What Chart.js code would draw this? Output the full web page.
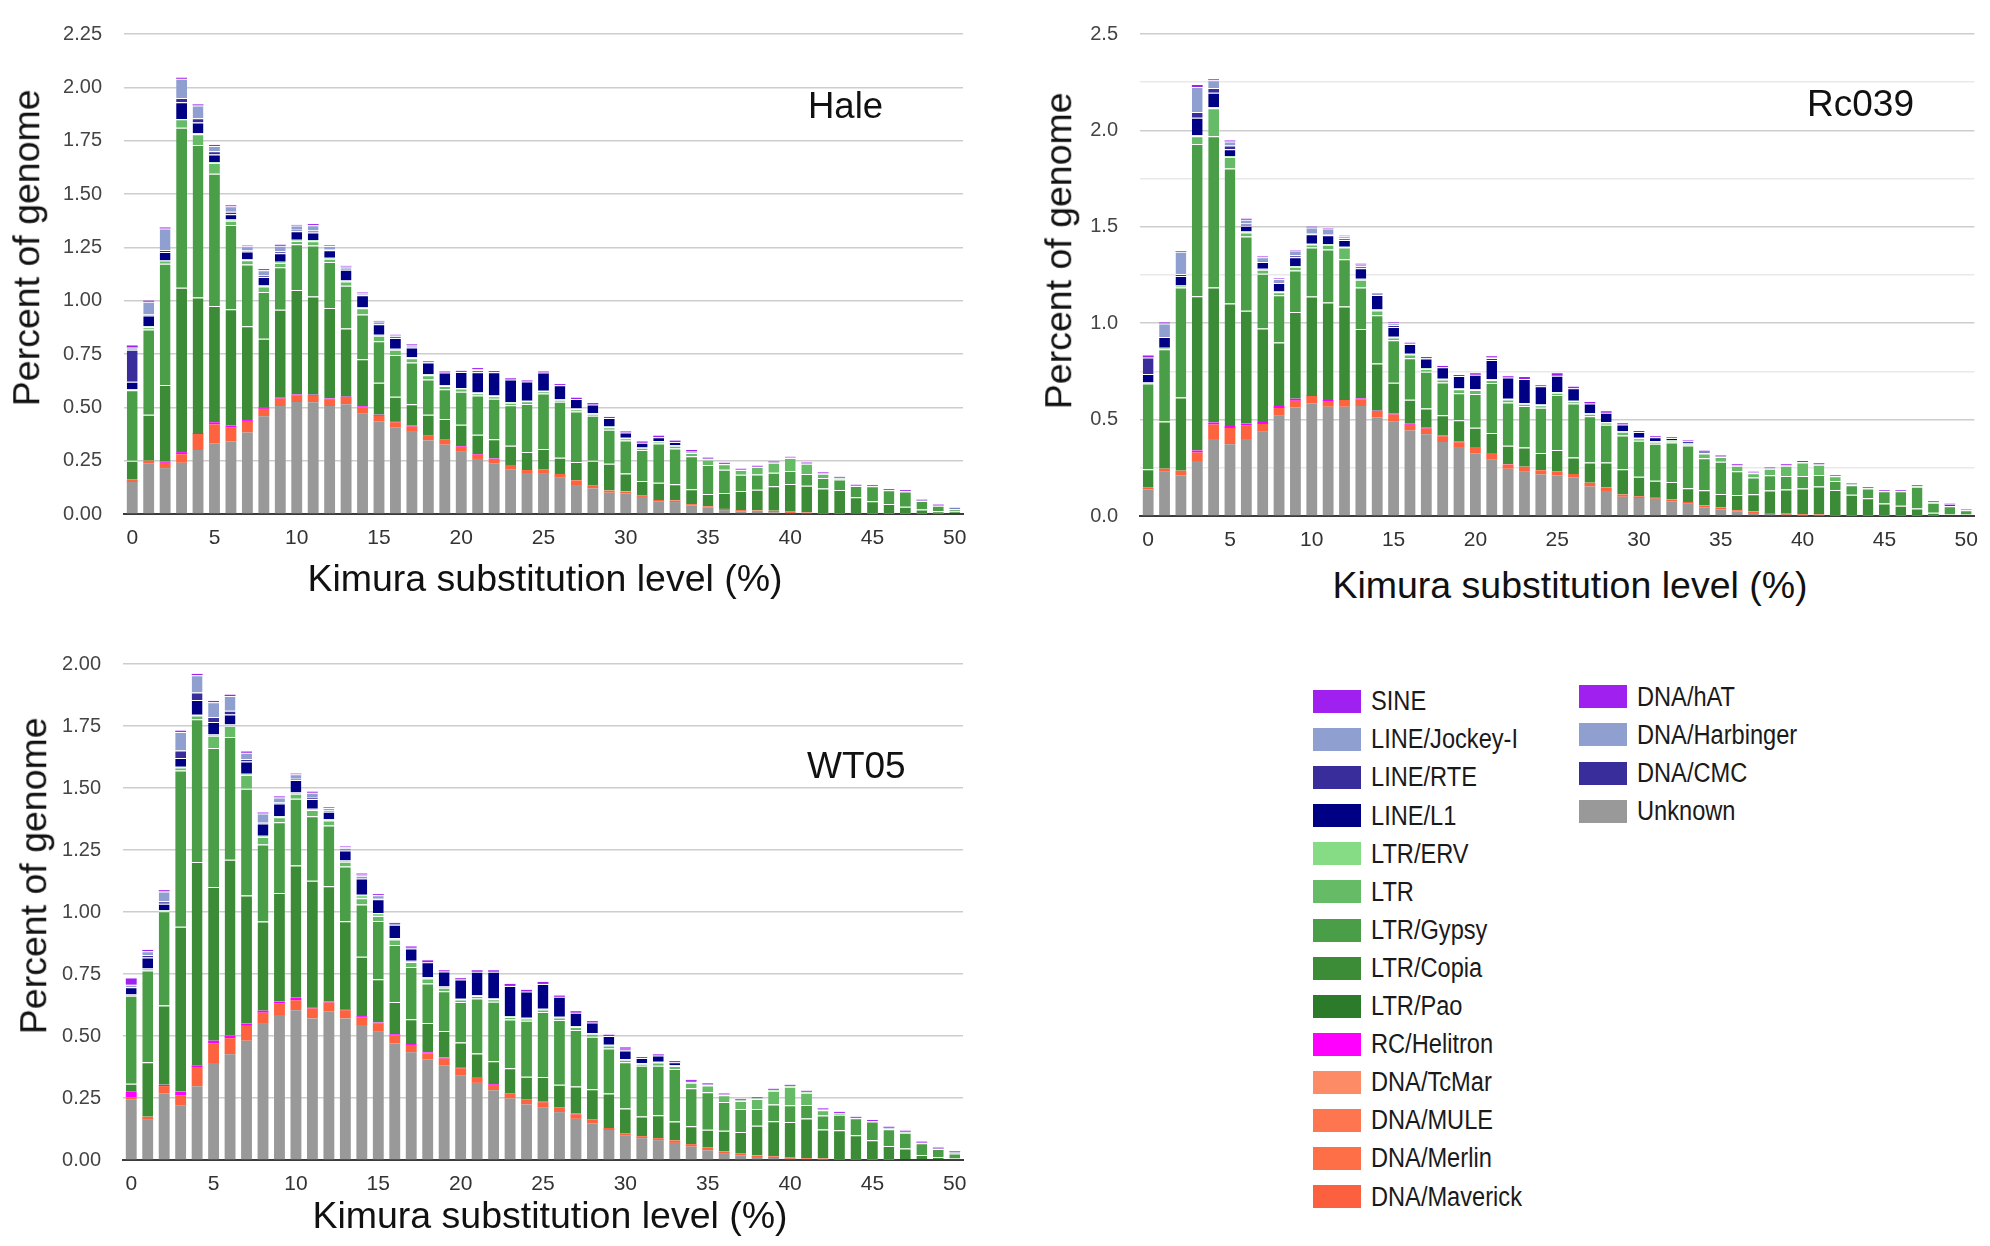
<!DOCTYPE html>
<html>
<head>
<meta charset="utf-8">
<title>Kimura substitution landscapes</title>
<script src="https://cdn.jsdelivr.net/npm/chart.js@4.4.0/dist/chart.umd.min.js"></script>
<style>
    body { margin: 0; background: #fff; font-family: 'Liberation Sans', Arial, sans-serif; }
    #page { position: relative; width: 1990px; height: 1246px; overflow: hidden; background: #fff; }
    .panel { position: absolute; }
    .txt { position: absolute; white-space: nowrap; line-height: 1; color: #111; }
    .swatch { position: absolute; width: 48px; height: 23px; }
    .legend-label { position: absolute; white-space: nowrap; line-height: 1; font-size: 27px; color: #1a1a1a;
                    transform-origin: 0 50%; transform: scaleX(0.875); }
</style>
</head>
<body>
<div id="page">
    <div class="panel" id="hale-box" style="left:0px; top:0px; width:990px; height:560px;"><canvas id="hale-chart"></canvas></div>
    <div class="panel" id="rc-box" style="left:1000px; top:0px; width:990px; height:562px;"><canvas id="rc-chart"></canvas></div>
    <div class="panel" id="wt-box" style="left:0px; top:630px; width:990px; height:576px;"><canvas id="wt-chart"></canvas></div>

    <!-- axis titles and sample tags -->
    <div class="txt" style="left:-173px; top:229px; width:400px; height:37.5px; font-size:37.5px; text-align:center; transform:rotate(-90deg);">Percent of genome</div>
    <div class="txt" style="left:859px; top:232px; width:400px; height:37.5px; font-size:37.5px; text-align:center; transform:rotate(-90deg);">Percent of genome</div>
    <div class="txt" style="left:-166px; top:857px; width:400px; height:37.5px; font-size:37.5px; text-align:center; transform:rotate(-90deg);">Percent of genome</div>

    <div class="txt" style="left:245px; top:560px; width:600px; font-size:37.5px; text-align:center;">Kimura substitution level (%)</div>
    <div class="txt" style="left:1270px; top:567px; width:600px; font-size:37.5px; text-align:center;">Kimura substitution level (%)</div>
    <div class="txt" style="left:250px; top:1197px; width:600px; font-size:37.5px; text-align:center;">Kimura substitution level (%)</div>

    <div class="txt" style="left:808px; top:88px; font-size:36.5px;">Hale</div>
    <div class="txt" style="left:1807px; top:85px; font-size:37px;">Rc039</div>
    <div class="txt" style="left:807px; top:747px; font-size:37px;">WT05</div>

    <div id="legend"></div>
</div>

<script>
// Kimura substitution level categories (0-50 %)
const kimuraLevels = [0,1,2,3,4,5,6,7,8,9,10,11,12,13,14,15,16,17,18,19,20,
    21,22,23,24,25,26,27,28,29,30,31,32,33,34,35,36,37,38,39,40,
    41,42,43,44,45,46,47,48,49,50];

// Legend entries (as in the original figure, top of the stack first)
const legendNames = ['SINE','LINE/Jockey-I','LINE/RTE','LINE/L1','LTR/ERV','LTR','LTR/Gypsy','LTR/Copia','LTR/Pao',
    'RC/Helitron','DNA/TcMar','DNA/MULE','DNA/Merlin','DNA/Maverick','DNA/hAT','DNA/Harbinger','DNA/CMC','Unknown'];
const legendColors = ['#a020ef','#8e9fd0','#392c9b','#000085','#85dc85','#66bb66','#4b9e48','#3c8c37','#2b7b2a',
    '#ff00ff','#fd8c66','#fe7650','#fe6f48','#fd603e','#a020ef','#8e9fd0','#392c9b','#999999'];

// Stacked series, bottom to top
const seriesNames = ['Unknown','DNA/Maverick','RC/Helitron','LTR/Copia','LTR/Gypsy','LTR','LTR/ERV','LINE/L1','LINE/RTE','LINE/Jockey-I','SINE'];
const seriesColors = ['#999999','#fd633f','#ff00ff','#3c8c37','#4b9e48','#66bb66','#85dc85','#000085','#392c9b','#8e9fd0','#a020ef'];
const seriesSeparated = [false,false,false,true,true,true,true,true,true,true,false];

/* ---------- Hale ---------- */
const haleUnknown = [0.150,0.238,0.215,0.240,0.300,0.330,0.340,0.382,0.458,0.506,
    0.525,0.524,0.506,0.515,0.470,0.435,0.405,0.385,0.345,0.325,
    0.295,0.258,0.238,0.210,0.188,0.192,0.170,0.136,0.120,0.100,
    0.097,0.080,0.060,0.056,0.040,0.030,0.018,0.012,0.010,0.008,
    0.005,0.003,0.002,0.002,0.002,0.001,0.001,0.001,0.001,0.001,0];
const haleDna = [0.010,0.012,0.025,0.040,0.075,0.090,0.065,0.050,0.035,0.035,
    0.030,0.030,0.030,0.030,0.030,0.025,0.025,0.025,0.022,0.022,
    0.020,0.020,0.020,0.020,0.018,0.018,0.018,0.022,0.015,0.010,
    0.008,0.008,0.006,0.008,0.006,0.006,0.006,0.006,0.006,0.007,
    0.006,0.004,0.002,0.002,0.001,0.001,0.001,0.001,0,0,0];
const haleHelitron = [0,0,0.005,0.010,0.005,0.010,0.010,0.008,0.008,0.006,
    0.005,0.005,0.005,0.005,0.005,0.005,0.005,0.005,0.003,0.003,
    0.003,0.003,0.002,0,0,0,0,0,0,0,
    0,0,0,0,0,0,0,0,0,0,
    0,0,0,0,0,0,0,0,0,0,0];
const haleCopia = [0.090,0.215,0.360,0.770,0.635,0.545,0.545,0.440,0.320,0.410,
    0.490,0.460,0.425,0.320,0.220,0.150,0.115,0.100,0.095,0.095,
    0.100,0.090,0.090,0.090,0.085,0.095,0.076,0.086,0.115,0.125,
    0.085,0.067,0.081,0.075,0.070,0.058,0.075,0.090,0.098,0.115,
    0.130,0.125,0.115,0.108,0.076,0.058,0.045,0.032,0.020,0.012,0.012];
const haleGypsy = [0.330,0.400,0.568,0.750,0.715,0.620,0.395,0.290,0.220,0.200,
    0.215,0.240,0.215,0.200,0.210,0.195,0.195,0.195,0.165,0.140,
    0.155,0.185,0.190,0.190,0.225,0.260,0.262,0.237,0.210,0.160,
    0.155,0.145,0.183,0.168,0.155,0.136,0.108,0.076,0.071,0.063,
    0.060,0.055,0.050,0.050,0.052,0.070,0.064,0.072,0.040,0.026,0.010];
const haleLtr = [0.005,0.010,0.015,0.040,0.050,0.050,0.020,0.020,0.025,0.020,
    0.015,0.020,0.015,0.020,0.030,0.025,0.025,0.020,0.020,0.015,
    0.015,0.010,0.012,0.012,0.012,0.010,0.010,0.010,0.010,0.012,
    0.010,0.010,0.010,0.013,0.015,0.025,0.026,0.022,0.035,0.047,
    0.062,0.048,0.020,0.006,0.002,0.002,0.002,0.002,0.002,0.001,0];
const haleErv = [0,0.005,0,0,0.005,0.005,0.005,0.005,0.005,0.005,
    0.005,0.005,0.005,0.005,0.005,0.005,0.005,0.005,0.005,0.003,
    0.003,0.003,0.003,0.003,0.003,0.003,0.003,0.003,0.003,0.003,
    0.002,0.002,0.002,0.002,0.002,0.002,0.002,0.002,0.002,0.002,
    0.002,0.002,0.002,0.002,0,0,0,0,0,0,0];
const haleL1 = [0.035,0.050,0.040,0.080,0.050,0.035,0.025,0.035,0.040,0.040,
    0.040,0.035,0.035,0.050,0.055,0.050,0.050,0.045,0.055,0.060,
    0.075,0.095,0.110,0.105,0.090,0.085,0.065,0.045,0.040,0.040,
    0.025,0.022,0.018,0.015,0.007,0.003,0,0,0,0,
    0,0,0,0,0,0,0,0,0,0,0.008];
const haleRte = [0.150,0.005,0.010,0.020,0.020,0.015,0.012,0.005,0.007,0.010,
    0.007,0.010,0.005,0.005,0.005,0.007,0.007,0.007,0.003,0,
    0,0.010,0,0,0,0,0,0,0,0,
    0,0,0,0,0,0,0,0,0,0,
    0,0,0,0,0,0,0,0,0,0,0];
const haleJockey = [0.010,0.060,0.100,0.090,0.060,0.025,0.025,0.020,0.025,0.025,
    0.020,0.025,0.015,0.010,0.005,0.005,0.005,0.005,0,0,
    0,0.005,0,0,0,0,0,0,0,0,
    0,0,0,0,0,0,0,0,0,0,
    0,0,0,0,0,0,0,0,0,0,0];
const haleSine = [0.010,0.005,0.005,0.005,0.005,0.005,0.005,0.003,0.005,0.005,
    0.003,0.005,0.003,0.003,0.003,0.003,0.003,0.003,0.003,0.005,
    0.005,0.005,0.005,0.006,0.005,0.005,0.005,0.006,0.007,0.005,
    0.005,0.006,0.007,0.007,0.005,0.004,0.005,0.004,0.004,0.004,
    0.003,0.004,0.004,0.004,0.004,0.004,0.004,0.004,0.004,0.004,0.001];

/* ---------- Rc039 ---------- */
const rcUnknown = [0.137,0.230,0.210,0.285,0.400,0.372,0.400,0.437,0.520,0.563,
    0.583,0.567,0.567,0.570,0.511,0.491,0.443,0.424,0.384,0.358,
    0.324,0.292,0.245,0.230,0.215,0.210,0.200,0.153,0.130,0.100,
    0.093,0.090,0.076,0.064,0.044,0.034,0.024,0.015,0.010,0.006,
    0.003,0.003,0.002,0.001,0.001,0.001,0.001,0.001,0.001,0,0];
const rcDna = [0.010,0.015,0.025,0.045,0.075,0.085,0.070,0.040,0.040,0.035,
    0.040,0.030,0.035,0.035,0.030,0.035,0.030,0.030,0.030,0.025,
    0.030,0.030,0.022,0.025,0.022,0.022,0.018,0.020,0.018,0.012,
    0.010,0.008,0.010,0.008,0.010,0.010,0.006,0.008,0.005,0.006,
    0.006,0.005,0.003,0.002,0.001,0,0,0,0,0,0];
const rcHelitron = [0,0,0,0.010,0.010,0.010,0.010,0.010,0.010,0.010,
    0.005,0.005,0.005,0.005,0.005,0.005,0.005,0.004,0.004,0.004,
    0.004,0.003,0.002,0,0,0,0,0,0,0,
    0,0,0,0,0,0,0,0,0,0,
    0,0,0,0,0,0,0,0,0,0,0];
const rcCopia = [0.095,0.245,0.380,0.800,0.700,0.635,0.585,0.485,0.330,0.450,
    0.510,0.505,0.480,0.360,0.245,0.160,0.125,0.100,0.105,0.110,
    0.100,0.105,0.095,0.100,0.090,0.110,0.085,0.105,0.130,0.130,
    0.100,0.085,0.090,0.072,0.080,0.070,0.079,0.090,0.117,0.125,
    0.133,0.145,0.130,0.107,0.090,0.064,0.052,0.038,0.016,0.010,0.008];
const rcGypsy = [0.445,0.375,0.570,0.790,0.785,0.700,0.385,0.285,0.245,0.215,
    0.255,0.275,0.245,0.215,0.250,0.220,0.215,0.190,0.170,0.140,
    0.175,0.260,0.225,0.215,0.235,0.285,0.280,0.240,0.195,0.175,
    0.187,0.192,0.205,0.222,0.165,0.167,0.123,0.087,0.080,0.070,
    0.066,0.060,0.047,0.050,0.050,0.063,0.075,0.113,0.052,0.040,0.022];
const rcLtr = [0.005,0.008,0.010,0.040,0.145,0.060,0.020,0.020,0.015,0.020,
    0.015,0.025,0.060,0.040,0.025,0.015,0.020,0.015,0.015,0.020,
    0.020,0.015,0.015,0.012,0.012,0.012,0.012,0.012,0.012,0.020,
    0.013,0.010,0.008,0.008,0.025,0.025,0.028,0.022,0.033,0.053,
    0.069,0.053,0.024,0.005,0.003,0.003,0.003,0.003,0.003,0.002,0];
const rcErv = [0,0,0,0.005,0.005,0.005,0.005,0.005,0.004,0.004,
    0.004,0.004,0.004,0.005,0.005,0.004,0.004,0.004,0.004,0.004,
    0.004,0.004,0.004,0.004,0.004,0.004,0.003,0.003,0.003,0.003,
    0.003,0.004,0.004,0.004,0.003,0.003,0.003,0.003,0.003,0.003,
    0.003,0.003,0.003,0,0,0,0,0,0,0,0];
const rcL1 = [0.045,0.055,0.050,0.090,0.075,0.035,0.030,0.035,0.045,0.045,
    0.050,0.045,0.035,0.055,0.075,0.050,0.050,0.050,0.060,0.065,
    0.075,0.100,0.110,0.125,0.095,0.085,0.065,0.050,0.048,0.035,
    0.030,0.020,0.012,0.010,0.006,0,0,0,0,0,
    0,0,0,0,0,0,0,0,0,0.008,0.002];
const rcRte = [0.085,0.005,0.010,0.030,0.025,0.020,0.012,0.005,0.005,0.010,
    0.005,0.005,0.010,0.010,0.005,0.010,0.003,0.003,0,0,
    0,0.010,0,0,0,0,0,0,0,0,
    0,0,0,0,0,0,0,0,0,0,
    0,0,0,0,0,0,0,0,0,0,0];
const rcJockey = [0,0.065,0.115,0.130,0.040,0.020,0.020,0.020,0.015,0.025,
    0.030,0.030,0.010,0.010,0.003,0.010,0,0,0,0,
    0,0.005,0,0,0,0,0,0,0,0,
    0,0,0,0,0,0,0,0,0,0,
    0,0,0,0,0,0,0,0,0,0,0];
const rcSine = [0.010,0.005,0.005,0.010,0.005,0.005,0.005,0.004,0.003,0.003,
    0.003,0.003,0.003,0.003,0.003,0.003,0.004,0.005,0.006,0.005,
    0.008,0.005,0.007,0.010,0.005,0.012,0.007,0.008,0.007,0.006,
    0.005,0.005,0.004,0.004,0.005,0.005,0.005,0.004,0.004,0.005,
    0.005,0.005,0.004,0.004,0.004,0.004,0.004,0.004,0.004,0.004,0.003];

/* ---------- WT05 ---------- */
const wtUnknown = [0.245,0.162,0.268,0.221,0.297,0.391,0.426,0.481,0.549,0.581,
    0.604,0.571,0.600,0.571,0.544,0.517,0.470,0.434,0.405,0.382,
    0.342,0.311,0.281,0.248,0.224,0.213,0.193,0.166,0.148,0.121,
    0.098,0.088,0.080,0.069,0.054,0.039,0.028,0.018,0.012,0.008,
    0.005,0.003,0.002,0.002,0.002,0.001,0.001,0,0,0,0];
const wtDna = [0.007,0.012,0.030,0.040,0.075,0.080,0.065,0.060,0.045,0.050,
    0.040,0.040,0.035,0.033,0.032,0.033,0.033,0.030,0.025,0.027,
    0.028,0.020,0.022,0.020,0.020,0.020,0.018,0.018,0.015,0.008,
    0.010,0.008,0.008,0.010,0.010,0.010,0.007,0.007,0.006,0.007,
    0.006,0.004,0.004,0.002,0.002,0.001,0,0,0,0,0];
const wtHelitron = [0.025,0,0.005,0.015,0.010,0.010,0.010,0.008,0.008,0.008,
    0.010,0.005,0.004,0.004,0.004,0.004,0.004,0.004,0.004,0.004,
    0.004,0.003,0.003,0.002,0.002,0.002,0.002,0.002,0.002,0,
    0,0,0,0,0,0,0,0,0,0,
    0,0,0,0,0,0,0,0,0,0,0];
const wtCopia = [0.030,0.220,0.320,0.665,0.820,0.620,0.710,0.518,0.360,0.438,
    0.533,0.510,0.465,0.355,0.240,0.175,0.130,0.100,0.118,0.107,
    0.100,0.095,0.092,0.100,0.090,0.100,0.090,0.110,0.120,0.139,
    0.100,0.079,0.092,0.076,0.072,0.073,0.083,0.088,0.120,0.141,
    0.142,0.160,0.117,0.116,0.096,0.078,0.055,0.046,0.020,0.012,0.008];
const wtGypsy = [0.355,0.370,0.380,0.630,0.575,0.560,0.495,0.430,0.310,0.285,
    0.270,0.260,0.245,0.220,0.210,0.235,0.230,0.210,0.160,0.160,
    0.163,0.222,0.240,0.197,0.225,0.262,0.262,0.228,0.212,0.182,
    0.186,0.205,0.200,0.212,0.153,0.151,0.116,0.093,0.068,0.068,
    0.068,0.055,0.056,0.062,0.068,0.075,0.068,0.064,0.048,0.032,0.018];
const wtLtr = [0.005,0.008,0.005,0.012,0.015,0.050,0.045,0.055,0.030,0.020,
    0.020,0.025,0.020,0.020,0.025,0.020,0.022,0.020,0.020,0.015,
    0.010,0.010,0.010,0.010,0.010,0.010,0.010,0.012,0.012,0.012,
    0.010,0.008,0.013,0.012,0.022,0.027,0.027,0.032,0.040,0.055,
    0.074,0.049,0.022,0.008,0.002,0.002,0.002,0.002,0.002,0.002,0];
const wtErv = [0,0,0,0.003,0.003,0.005,0.005,0.005,0.005,0.005,
    0.005,0.005,0.005,0.005,0.015,0.012,0.005,0.005,0.005,0.005,
    0.003,0.003,0.003,0.003,0.003,0.003,0.003,0.003,0.003,0.003,
    0.003,0.003,0.003,0.003,0.003,0.003,0.003,0.003,0.003,0.004,
    0.004,0.004,0.003,0,0,0,0,0,0,0,0];
const wtL1 = [0.030,0.045,0.025,0.035,0.060,0.050,0.040,0.050,0.050,0.050,
    0.050,0.040,0.030,0.040,0.065,0.055,0.055,0.050,0.060,0.060,
    0.078,0.095,0.108,0.122,0.105,0.100,0.080,0.055,0.042,0.035,
    0.035,0.020,0.025,0.012,0.005,0.002,0,0,0,0,
    0,0,0,0,0,0,0,0.002,0,0,0];
const wtRte = [0,0.010,0.010,0.030,0.030,0.020,0.015,0.010,0.005,0.005,
    0.005,0.005,0.005,0.008,0.008,0.005,0.003,0.003,0,0,
    0,0,0,0,0,0,0,0,0,0,
    0.007,0,0,0,0,0,0,0,0,0,
    0,0,0,0,0,0,0,0,0,0,0.006];
const wtJockey = [0.010,0.015,0.040,0.075,0.070,0.060,0.060,0.025,0.035,0.020,
    0.018,0.020,0.010,0.005,0.008,0.012,0,0,0,0,
    0,0,0,0,0,0,0,0,0,0,
    0,0,0,0,0,0,0,0,0,0,
    0,0,0,0,0,0,0.004,0,0,0,0];
const wtSine = [0.025,0.005,0.005,0.005,0.005,0.005,0.005,0.005,0.004,0.004,
    0.003,0.004,0.003,0.003,0.004,0.004,0.004,0.005,0.008,0.005,
    0.005,0.006,0.006,0.008,0.007,0.008,0.005,0.006,0.006,0.005,
    0.005,0.004,0.005,0.005,0.004,0.004,0.004,0.004,0.004,0.004,
    0.004,0.004,0.004,0.004,0.004,0.004,0.004,0.004,0.004,0.004,0.003];

Chart.defaults.font.family = "'Liberation Sans', Arial, sans-serif";

/**
 * Build the stacked datasets of one panel (bottom to top order)
 */
function buildDatasets(values) {
    return seriesNames.map((name, i) => ({
        label: name,
        data: values[i],
        backgroundColor: seriesColors[i],
        borderColor: '#ffffff',
        borderWidth: seriesSeparated[i] ? { top: 1, right: 0, bottom: 0, left: 0 } : 0,
        borderSkipped: false,
        categoryPercentage: 1.0,
        barPercentage: 0.66
    }));
}

/**
 * Draw one repeat landscape panel
 */
function drawPanel(canvasId, values, p) {
    const ctx = document.getElementById(canvasId).getContext('2d');
    new Chart(ctx, {
        type: 'bar',
        data: { labels: kimuraLevels, datasets: buildDatasets(values) },
        options: {
            responsive: true,
            maintainAspectRatio: false,
            animation: false,
            layout: {
                autoPadding: false,
                padding: { top: p.padTop, right: p.padRight, bottom: 0, left: 0 }
            },
            plugins: {
                legend: { display: false },
                tooltip: { enabled: false }
            },
            scales: {
                x: {
                    stacked: true,
                    grid: { display: false, drawTicks: false },
                    border: { display: true, color: '#3c3c3c', width: 2 },
                    ticks: {
                        autoSkip: false,
                        maxRotation: 0,
                        padding: p.xPad,
                        color: '#333333',
                        font: { size: p.xFont },
                        callback: function(value, index) { return index % 5 === 0 ? String(kimuraLevels[index]) : ''; }
                    },
                    afterFit: function(scale) { scale.height = p.axisH; }
                },
                y: {
                    stacked: true,
                    min: 0,
                    max: p.yMax,
                    border: { display: false },
                    grid: {
                        drawTicks: false,
                        lineWidth: 1.5,
                        color: function(c) {
                            if (!p.minor) return '#cdcdcd';
                            const v = c.tick ? c.tick.value : 0;
                            return Math.abs(v * 2 - Math.round(v * 2)) < 1e-6 ? '#cdcdcd' : '#e9e9e9';
                        }
                    },
                    ticks: {
                        stepSize: 0.25,
                        padding: 22,
                        color: '#444444',
                        font: { size: p.yFont },
                        callback: function(value) {
                            if (p.minor && Math.abs(value * 2 - Math.round(value * 2)) > 1e-6) return '';
                            return value.toFixed(p.digits);
                        }
                    },
                    afterFit: function(scale) { scale.width = p.axisW; }
                }
            }
        }
    });
}

drawPanel('hale-chart',
    [haleUnknown, haleDna, haleHelitron, haleCopia, haleGypsy, haleLtr, haleErv, haleL1, haleRte, haleJockey, haleSine],
    { padTop: 19, padRight: 27, axisW: 124, axisH: 46, yMax: 2.25, digits: 2, minor: false, yFont: 20, xFont: 21, xPad: 12 });

drawPanel('rc-chart',
    [rcUnknown, rcDna, rcHelitron, rcCopia, rcGypsy, rcLtr, rcErv, rcL1, rcRte, rcJockey, rcSine],
    { padTop: 19, padRight: 12, axisW: 140, axisH: 46, yMax: 2.5, digits: 1, minor: true, yFont: 20, xFont: 21, xPad: 12 });

drawPanel('wt-chart',
    [wtUnknown, wtDna, wtHelitron, wtCopia, wtGypsy, wtLtr, wtErv, wtL1, wtRte, wtJockey, wtSine],
    { padTop: 32, padRight: 27, axisW: 123, axisH: 46, yMax: 2.0, digits: 2, minor: false, yFont: 20, xFont: 21, xPad: 12 });

// HTML legend: first column 14 rows, second column 4 rows
const legendEl = document.getElementById('legend');
legendNames.forEach((name, i) => {
    const col = i < 14 ? 0 : 1;
    const row = col === 0 ? i : i - 14;
    const cy = (col === 0 ? 701.4 : 696.8) + row * 38.1;
    const sx = col === 0 ? 1313 : 1579;
    legendEl.insertAdjacentHTML('beforeend',
        `<div class="swatch" style="left:${sx}px; top:${(cy - 11.5).toFixed(1)}px; background:${legendColors[i]};"></div>` +
        `<div class="legend-label" style="left:${sx + 58}px; top:${(cy - 13.2).toFixed(1)}px;">${name}</div>`);
});
</script>
</body>
</html>
